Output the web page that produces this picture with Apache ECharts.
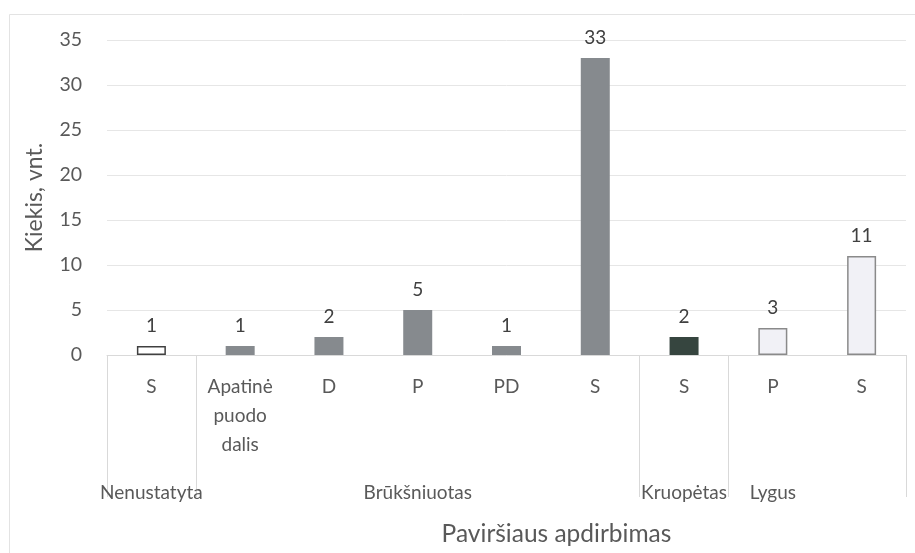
<!DOCTYPE html>
<html>
<head>
<meta charset="utf-8">
<script src="https://cdn.jsdelivr.net/npm/echarts@6/dist/echarts.min.js"></script>
<style>html,body{margin:0;padding:0;background:#fff}#c{width:915px;height:553px}</style>
</head>
<body>
<div id="c"></div>
<script>
const groups = ['Nenustatyta','Brūkšniuotas','Brūkšniuotas','Brūkšniuotas','Brūkšniuotas','Brūkšniuotas','Kruopėtas','Lygus','Lygus'];
const subcats = ['S','Apatinė\npuodo\ndalis','D','P','PD','S','S','P','S'];
const values = [1,1,2,5,1,33,2,3,11];
const yTicks = {min:0, max:35, interval:5};
const yName = 'Kiekis, vnt.';
const xName = 'Paviršiaus apdirbimas';

const groupStyle = {
  'Nenustatyta': {color:'#ffffff', borderColor:'#404040', borderWidth:1.5},
  'Brūkšniuotas': {color:'#868a8e', borderColor:'#868a8e', borderWidth:0},
  'Kruopėtas': {color:'#36453f', borderColor:'#36453f', borderWidth:0},
  'Lygus': {color:'#f1f1f6', borderColor:'#8a8a8a', borderWidth:1.5}
};

// group label placed at the middle category of each group
const groupLabels = subcats.map(() => '');
let start = 0;
for (let i = 1; i <= groups.length; i++) {
  if (i === groups.length || groups[i] !== groups[start]) {
    groupLabels[Math.floor((start + i - 1) / 2)] = groups[start];
    start = i;
  }
}
const isBoundary = (i) => i === 0 || groups[i] !== groups[i - 1];

const FONT = 'Lato';
const TXT = '#595959';
const chart = echarts.init(document.getElementById('c'), null, {renderer:'canvas'});
chart.setOption({
  animation:false,
  backgroundColor:'#ffffff',
  textStyle:{fontFamily:FONT},
  graphic:[{type:'rect', left:7, top:12, shape:{width:940, height:600}, style:{fill:'none', stroke:'#e3e3e3', lineWidth:1}, silent:true}],
  grid:{left:107, right:9, top:40, bottom:198},
  xAxis:[{
    type:'category', data:subcats, position:'bottom',
    axisLine:{lineStyle:{color:'#d9d9d9', width:1}},
    axisTick:{show:true, length:142, interval:(i)=>isBoundary(i), lineStyle:{color:'#d9d9d9', width:1}},
    axisLabel:{interval:0, color:TXT, fontSize:19, fontFamily:FONT, lineHeight:29, margin:17},
    name:xName, nameLocation:'middle', nameGap:167,
    nameTextStyle:{color:TXT, fontSize:24.5, fontFamily:FONT, padding:[0,0,0,100]}
  },{
    type:'category', data:groupLabels, position:'bottom', offset:0,
    axisLine:{show:false}, axisTick:{show:false},
    axisLabel:{interval:0, color:TXT, fontSize:19, fontFamily:FONT, margin:128}
  }],
  yAxis:{
    type:'value', min:yTicks.min, max:yTicks.max, interval:yTicks.interval,
    axisLine:{show:false}, axisTick:{show:false},
    axisLabel:{color:TXT, fontSize:19.5, fontFamily:FONT, margin:25},
    splitLine:{lineStyle:{color:'#e6e6e6', width:1}},
    name:yName, nameLocation:'middle', nameRotate:90, nameGap:61,
    nameTextStyle:{color:TXT, fontSize:23, fontFamily:FONT}
  },
  series:[{
    type:'bar', xAxisIndex:0, barWidth:29,
    data:values.map((v,i)=>({value:v, itemStyle:groupStyle[groups[i]]})),
    label:{show:true, position:'top', distance:11, color:'#404040', fontSize:19, fontFamily:FONT}
  }]
});
</script>
</body>
</html>
